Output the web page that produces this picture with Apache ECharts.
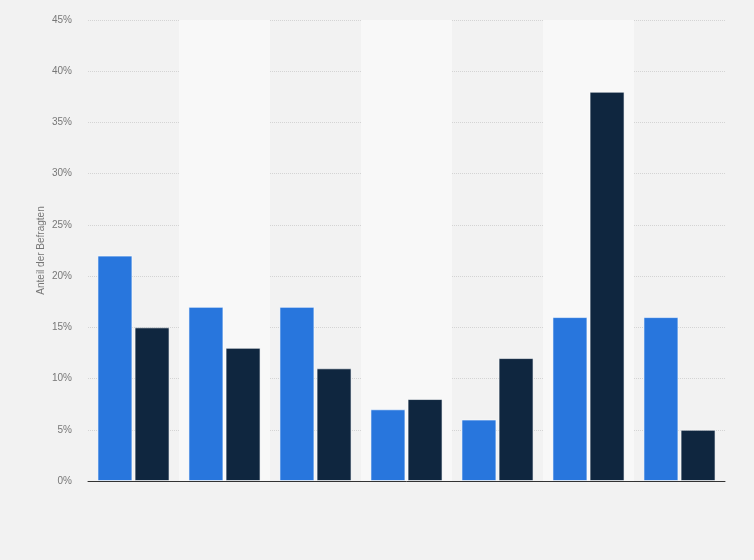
<!DOCTYPE html>
<html>
<head>
<meta charset="utf-8">
<script src="https://cdn.jsdelivr.net/npm/echarts@6/dist/echarts.min.js"></script>
<style>
  html, body { margin: 0; padding: 0; background: #f2f2f2; }
  #chart { width: 754px; height: 560px; }
</style>
</head>
<body>
<div id="chart"></div>
<script>
// Werte (Prozent)
var categories = ['1', '2', '3', '4', '5', '6', '7'];
var seriesA = [22, 17, 17, 7, 6, 16, 16];
var seriesB = [15, 13, 11, 8, 12, 38, 5];
var yTicks = [0, 5, 10, 15, 20, 25, 30, 35, 40, 45];

window.onload = start_chart();
function start_chart() {
    var myChart = echarts.init(document.getElementById('chart'));
    var option = {
        backgroundColor: '#f2f2f2',
        animation: false,
        grid: { left: 88, right: 29, top: 20, bottom: 79 },
        xAxis: {
            type: 'category',
            data: categories,
            axisLine: { lineStyle: { color: '#333', width: 1 } },
            axisTick: { show: false },
            axisLabel: { show: false },
            splitArea: {
                show: true,
                areaStyle: { color: ['rgba(0,0,0,0)', '#f8f8f8'] }
            }
        },
        yAxis: {
            type: 'value',
            min: yTicks[0],
            max: yTicks[yTicks.length - 1],
            interval: 5,
            name: 'Anteil der Befragten',
            nameLocation: 'middle',
            nameGap: 42,
            nameMoveOverlap: false,
            nameTextStyle: { color: '#777', fontSize: 10, fontFamily: 'Liberation Sans, Arial, sans-serif' },
            axisLine: { show: false },
            axisTick: { show: false },
            axisLabel: {
                formatter: '{value}%',
                color: '#777',
                fontSize: 10,
                margin: 16,
                fontFamily: 'Liberation Sans, Arial, sans-serif'
            },
            splitLine: { lineStyle: { color: '#d4d4d4', type: [1, 1], width: 1 } }
        },
        series: [{
            name: 'A',
            type: 'bar',
            data: seriesA,
            barWidth: 35,
            barGap: '6%',
            itemStyle: { color: '#2876dd', borderColor: 'rgba(255,255,255,0.6)', borderWidth: 1 }
        }, {
            name: 'B',
            type: 'bar',
            data: seriesB,
            barWidth: 35,
            itemStyle: { color: '#0f263f', borderColor: 'rgba(255,255,255,0.6)', borderWidth: 1 }
        }]
    };
    myChart.setOption(option);
}
</script>
</body>
</html>
